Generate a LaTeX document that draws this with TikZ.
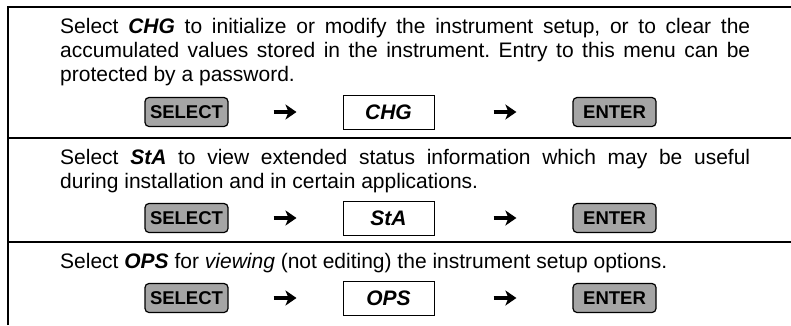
\documentclass[tikz,border=0pt]{standalone}
\usepackage{fontspec}
\setmainfont{Liberation Sans}
\usetikzlibrary{arrows.meta}
\definecolor{keygray}{RGB}{165,165,165}
\tikzset{
  keycap/.style={draw=black, line width=1.2pt, fill=keygray, rounded corners=4pt,
    minimum width=83pt, minimum height=29pt, inner sep=0pt,
    font=\fontsize{18.5}{20}\selectfont\bfseries},
  display/.style={draw=black, line width=1pt, fill=white,
    minimum width=91pt, minimum height=34pt, inner sep=0pt,
    font=\fontsize{21}{22}\selectfont\bfseries\itshape},
  desc/.style={anchor=north west, inner sep=0pt, text width=690pt, align=justify,
    font=\fontsize{21}{24}\selectfont\frenchspacing},
  keyarrow/.style={line width=3.5pt, -{Stealth[length=11pt,width=15pt,inset=3pt]}},
  rule/.style={line width=2pt}
}

\begin{document}
\begin{tikzpicture}[x=1pt, y=-1pt]
      \useasboundingbox (0,0) rectangle (791,325);

      % frame and row separators
      \draw [rule] (7.5,325) -- (7.5,6.5) -- (791,6.5);
      \draw [rule] (7.5,138) -- (791,138);
      \draw [rule] (7.5,242) -- (791,242);

      % CHG
      \node [desc] (txtchg) at (60,18) {Select \textbf{\textit{CHG}} to initialize or modify the instrument setup, or to clear the\linebreak
        accumulated values stored in the instrument. Entry to this menu can be\linebreak
        protected by a password.};
      \node [keycap] (sel1) at (186.5,112) {SELECT};
      \node [display] (chg) at (388.5,112) {CHG};
      \node [keycap] (ent1) at (614.5,112) {ENTER};
      \draw [keyarrow, shorten <=45pt, shorten >=46pt] (sel1) -- (chg);
      \draw [keyarrow, shorten <=59pt, shorten >=56pt] (chg) -- (ent1);

      % StA
      \node [desc] (txtsta) at (60,149) {Select \textbf{\textit{StA}} to view extended status information which may be useful\linebreak
        during installation and in certain applications.};
      \node [keycap] (sel2) at (186.5,218) {SELECT};
      \node [display] (sta) at (388.5,218) {StA};
      \node [keycap] (ent2) at (614.5,218) {ENTER};
      \draw [keyarrow, shorten <=45pt, shorten >=46pt] (sel2) -- (sta);
      \draw [keyarrow, shorten <=59pt, shorten >=56pt] (sta) -- (ent2);

      % OPS
      \node [desc] (txtops) at (60,253) {Select \textbf{\textit{OPS}} for \textit{viewing} (not editing) the instrument setup options.};
      \node [keycap] (sel3) at (186.5,298) {SELECT};
      \node [display] (ops) at (388.5,298) {OPS};
      \node [keycap] (ent3) at (614.5,298) {ENTER};
      \draw [keyarrow, shorten <=45pt, shorten >=46pt] (sel3) -- (ops);
      \draw [keyarrow, shorten <=59pt, shorten >=56pt] (ops) -- (ent3);

    \end{tikzpicture}
\end{document}
